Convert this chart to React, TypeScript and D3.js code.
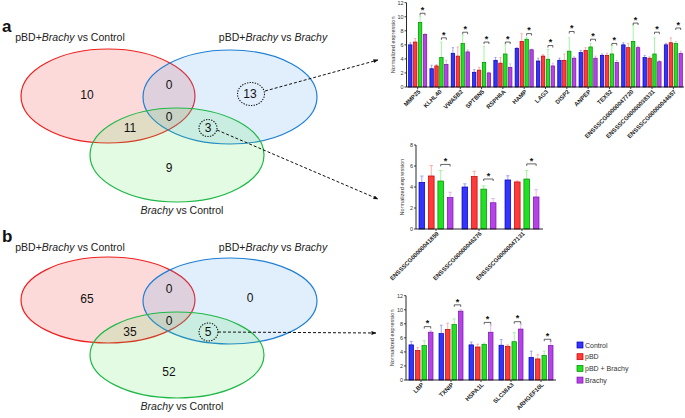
import * as d3 from 'd3';

// conditions / colours
const conditions = ['Control', 'pBD', 'pBD + Brachy', 'Brachy'];
const fills = ['#3434ff', '#ff3a3a', '#22e022', '#b544e8'];
const edges = ['#0000b0', '#c00000', '#008a00', '#7a10a8'];
const errColors = ['#8c8cff', '#ff9a9a', '#8ef08e', '#d9a6f2'];

// panel a, 13 genes
const genesA = ['MMP25', 'KLHL40', 'VWA5B2', 'SPTBN5', 'RSPH6A', 'HAMP', 'LAG3', 'DISP2', 'ANPEP', 'TEX52',
  'ENSSSCG00000047720', 'ENSSSCG00000038331', 'ENSSSCG00000044657'];
const controlA = [6.0, 2.6, 4.8, 2.1, 3.8, 5.5, 3.7, 3.8, 4.9, 4.5, 6.0, 4.2, 6.0];
const pbdA = [6.4, 3.0, 4.4, 2.4, 3.4, 6.5, 4.4, 3.8, 5.2, 4.5, 5.6, 4.1, 6.3];
const pbdBrachyA = [9.2, 4.2, 6.2, 3.5, 4.7, 6.8, 3.95, 5.1, 5.7, 4.7, 6.5, 4.7, 6.2];
const brachyA = [7.5, 3.2, 5.0, 2.0, 2.8, 5.3, 3.0, 4.1, 4.1, 3.5, 5.6, 3.6, 4.8];
const controlErrA = [0.3, 0.5, 0.8, 0.4, 0.4, 0.1, 0.4, 0.3, 0.3, 0.2, 0.3, 0.3, 0.2];
const pbdErrA = [0.5, 0.2, 1.3, 0.4, 0.8, 1.1, 0.2, 0.9, 0.4, 0.3, 0.6, 0.2, 0.7];
const pbdBrachyErrA = [0.9, 2.2, 1.2, 2.3, 1.3, 0.3, 1.4, 1.9, 0.5, 1.2, 2.3, 2.3, 0.3];
const brachyErrA = [0.05, 0.6, 0.3, 0.1, 0.5, 0.1, 0.4, 0.2, 0.3, 0.3, 0.2, 0.2, 0.3];
const sigA = [10.5, 7.0, 7.8, 6.4, 6.4, 7.6, 5.9, 7.9, 6.8, 6.2, 9.1, 7.8, 8.4];

// panel a, 3 genes
const genesB = ['ENSSSCG00000041859', 'ENSSSCG00000046276', 'ENSSSCG00000047131'];
const controlB = [4.44, 4.0, 4.67];
const pbdB = [5.05, 5.0, 4.48];
const pbdBrachyB = [4.57, 3.8, 4.76];
const brachyB = [3.0, 2.5, 3.05];
const controlErrB = [0.6, 0.3, 0.4];
const pbdErrB = [1.0, 0.5, 0.1];
const pbdBrachyErrB = [1.0, 0.3, 0.8];
const brachyErrB = [0.5, 0.4, 0.7];
const sigB = [6.15, 4.76, 6.2];

// panel b, 5 genes
const genesC = ['LBP', 'TXNIP', 'HSPA1L', 'SLC38A3', 'ARHGEF10L'];
const controlC = [5.0, 6.6, 5.0, 4.95, 3.2];
const pbdC = [4.2, 7.2, 4.7, 4.8, 3.0];
const pbdBrachyC = [4.9, 7.9, 5.05, 5.45, 3.5];
const brachyC = [6.8, 9.8, 6.8, 7.25, 4.9];
const controlErrC = [0.5, 1.2, 0.4, 0.8, 0.9];
const pbdErrC = [0.4, 0.9, 0.4, 0.2, 0.6];
const pbdBrachyErrC = [0.7, 0.8, 0.2, 1.3, 0.6];
const brachyErrC = [0.2, 0.2, 1.0, 0.7, 0.6];
const sigC = [7.6, 10.7, 8.2, 8.3, 5.8];

// venn counts: [A only, A∩B, B only, A∩C, A∩B∩C, B∩C, C only]
const vennA = [10, 0, 13, 11, 0, 3, 9];
const vennB = [65, 0, 0, 35, 0, 5, 52];

const FONT = '"Liberation Sans", Arial, Helvetica, sans-serif';

function BarPanel({ genes, series, errs, sig, range, padIn, padOut, innerPad, axisX, axisEnd, yBottom, yTop, yMax }) {
  const x = d3.scaleBand(genes, range).paddingInner(padIn).paddingOuter(padOut);
  const inner = d3.scaleBand(conditions, [0, x.bandwidth()]).paddingInner(innerPad);
  const y = d3.scaleLinear([0, yMax], [yBottom, yTop]);
  const ticks = d3.range(0, yMax + 1, 2);
  const bw = inner.bandwidth();
  return (
    <g>
      {genes.map((g, gi) => (
        <g key={g}>
          {series.map((s, si) => {
            const bx = x(g) + inner(conditions[si]);
            const top = y(s[gi]);
            const eTop = y(s[gi] + errs[si][gi]);
            return (
              <g key={si}>
                <line x1={bx + bw / 2} x2={bx + bw / 2} y1={top} y2={eTop} stroke={errColors[si]} strokeWidth={0.8} />
                <line x1={bx + bw * 0.2} x2={bx + bw * 0.8} y1={eTop} y2={eTop} stroke={errColors[si]} strokeWidth={0.8} />
                <rect x={bx} y={top} width={bw} height={yBottom - top} fill={fills[si]} stroke={edges[si]} strokeWidth={0.7} />
              </g>
            );
          })}
          {(() => {
            const xa = x(g) + inner(conditions[2]) + bw / 2;
            const xb = x(g) + inner(conditions[3]) + bw / 2;
            const yy = y(sig[gi]);
            return (
              <g>
                <path d={`M${xa},${yy + 2}V${yy}H${xb}V${yy + 2}`} fill="none" stroke="#222" strokeWidth={0.7} />
                <text x={(xa + xb) / 2} y={yy - 0.3} textAnchor="middle" fontSize={9} fontWeight="bold" fill="#111">*</text>
              </g>
            );
          })()}
          <line x1={x(g) + x.bandwidth() / 2} x2={x(g) + x.bandwidth() / 2} y1={yBottom} y2={yBottom + 2} stroke="#111" strokeWidth={0.8} />
          <text
            transform={`translate(${x(g) + x.bandwidth() / 2 + 2},${yBottom + 4}) rotate(-45)`}
            textAnchor="end" dominantBaseline="middle" fontSize={6} fontWeight="bold" fill="#222">{g}</text>
        </g>
      ))}
      <line x1={axisX} x2={axisEnd} y1={yBottom} y2={yBottom} stroke="#111" strokeWidth={0.9} />
      <line x1={axisX} x2={axisX} y1={yBottom} y2={y(yMax)} stroke="#111" strokeWidth={0.9} />
      {ticks.map(t => (
        <g key={t}>
          <line x1={axisX - 2} x2={axisX} y1={y(t)} y2={y(t)} stroke="#111" strokeWidth={0.8} />
          <text x={axisX - 3} y={y(t)} textAnchor="end" dominantBaseline="central" fontSize={5.5} fill="#333">{t}</text>
        </g>
      ))}
      <text transform={`translate(${axisX - 14},${(yBottom + y(yMax)) / 2}) rotate(-90)`} textAnchor="middle"
        dominantBaseline="central" fontSize={5.6} fill="#333">Normalized expression</text>
    </g>
  );
}

function Venn({ counts, cy, ry, labelY, bottomLabelY }) {
  // layout of the three ellipses
  const circles = [
    { cx: 108, cy: cy, stroke: '#ee2020', fill: 'rgba(245,70,70,0.2)' },
    { cx: 230, cy: cy + 1, stroke: '#1f7fd4', fill: 'rgba(80,160,240,0.17)' },
    { cx: 177, cy: cy + ry + 12, stroke: '#20b848', fill: 'rgba(80,230,80,0.16)' },
  ];
  const spots = [
    [87, cy - 1], [169, cy - 11], [250, cy - 2], [130, cy + 32], [169, cy + 21], [208, cy + 32], [169, cy + 72],
  ];
  return (
    <g fontFamily={FONT}>
      {circles.map((c, i) => (
        <ellipse key={i} cx={c.cx} cy={c.cy} rx={87} ry={ry} fill={c.fill} stroke={c.stroke} strokeWidth={1.2} />
      ))}
      {counts.map((n, i) => (
        <text key={i} x={spots[i][0]} y={spots[i][1]} textAnchor="middle" dominantBaseline="central" fontSize={12} fill="#111">{n}</text>
      ))}
      <text x={70} y={labelY} textAnchor="middle" fontSize={10.5} fill="#222">pBD+<tspan fontStyle="italic">Brachy</tspan> vs Control</text>
      <text x={273} y={labelY} textAnchor="middle" fontSize={10.5} fill="#222">pBD+<tspan fontStyle="italic">Brachy</tspan> vs <tspan fontStyle="italic">Brachy</tspan></text>
      <text x={182} y={bottomLabelY} textAnchor="middle" fontSize={10.5} fill="#222"><tspan fontStyle="italic">Brachy</tspan> vs Control</text>
    </g>
  );
}

export default function App() {
  return (
    <svg width={685} height={418} viewBox="0 0 685 418" style={{ position: 'absolute', left: 0, top: 0, background: '#fff' }} fontFamily={FONT}>
      <defs>
        <marker id="arr" viewBox="0 0 10 10" refX={9} refY={5} markerWidth={5} markerHeight={5} orient="auto">
          <path d="M0,1L10,5L0,9z" fill="#111" />
        </marker>
      </defs>
      <text x={2} y={32} fontSize={17} fontWeight="bold" fill="#111">a</text>
      <text x={2} y={242} fontSize={17} fontWeight="bold" fill="#111">b</text>

      <Venn counts={vennA} cy={96} ry={47} labelY={41} bottomLabelY={214} />
      <Venn counts={vennB} cy={300} ry={43} labelY={251} bottomLabelY={410} />

      <ellipse cx={251} cy={94} rx={13.5} ry={11.5} fill="none" stroke="#111" strokeWidth={1.1} strokeDasharray="1.3,1.3" />
      <ellipse cx={208} cy={128} rx={9} ry={8.5} fill="none" stroke="#111" strokeWidth={1.1} strokeDasharray="1.3,1.3" />
      <ellipse cx={208.5} cy={332} rx={9.5} ry={9} fill="none" stroke="#111" strokeWidth={1.1} strokeDasharray="1.3,1.3" />
      <line x1={265} y1={91} x2={378} y2={60} stroke="#111" strokeWidth={1} strokeDasharray="3,2" markerEnd="url(#arr)" />
      <line x1={217} y1={130} x2={378} y2={199} stroke="#111" strokeWidth={1} strokeDasharray="3,2" markerEnd="url(#arr)" />
      <line x1={218} y1={332} x2={376} y2={333} stroke="#111" strokeWidth={1} strokeDasharray="3,2" markerEnd="url(#arr)" />

      <BarPanel genes={genesA} series={[controlA, pbdA, pbdBrachyA, brachyA]}
        errs={[controlErrA, pbdErrA, pbdBrachyErrA, brachyErrA]} sig={sigA}
        range={[407, 684]} padIn={0.15} padOut={0.075} innerPad={0.3}
        axisX={406.5} axisEnd={684} yBottom={87} yTop={2.7} yMax={12} />
      <BarPanel genes={genesB} series={[controlB, pbdB, pbdBrachyB, brachyB]}
        errs={[controlErrB, pbdErrB, pbdBrachyErrB, brachyErrB]} sig={sigB}
        range={[414.5, 543.5]} padIn={0.21} padOut={0.105} innerPad={0.4}
        axisX={416} axisEnd={543} yBottom={229} yTop={145} yMax={8} />
      <BarPanel genes={genesC} series={[controlC, pbdC, pbdBrachyC, brachyC]}
        errs={[controlErrC, pbdErrC, pbdBrachyErrC, brachyErrC]} sig={sigC}
        range={[406, 556]} padIn={0.2} padOut={0.1} innerPad={0.3}
        axisX={406} axisEnd={556} yBottom={380} yTop={295.7} yMax={12} />

      {conditions.map((c, i) => (
        <g key={c} transform={`translate(577,${345 + i * 11.7})`}>
          <rect x={0} y={-3} width={6} height={6} fill={fills[i]} stroke={edges[i]} strokeWidth={0.7} />
          <text x={8} y={0} dominantBaseline="central" fontSize={7} fill="#333">{c}</text>
        </g>
      ))}
    </svg>
  );
}
